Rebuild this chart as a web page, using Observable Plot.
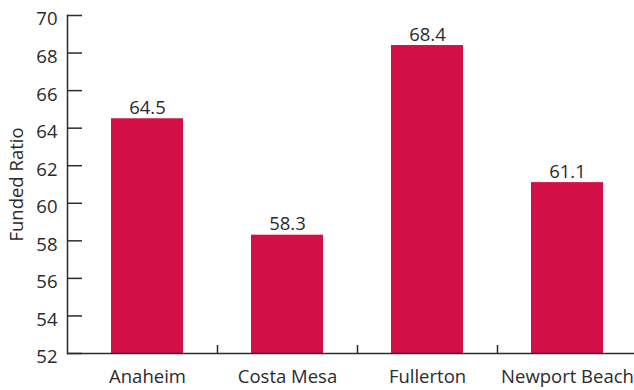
<!DOCTYPE html>
<html>
<head>
<meta charset="utf-8">
<script src="https://cdn.jsdelivr.net/npm/d3@7"></script>
<script src="https://cdn.jsdelivr.net/npm/@observablehq/plot@0.6"></script>
<style>
  html, body { margin: 0; padding: 0; background: #fff; }
  #chart svg { display: block; }
</style>
</head>
<body>
<div id="chart"></div>
<script>
const cities = ["Anaheim", "Costa Mesa", "Fullerton", "Newport Beach"];
const fundedRatio = [64.5, 58.3, 68.4, 61.1];
const yTicks = [52, 54, 56, 58, 60, 62, 64, 66, 68, 70];

const data = cities.map((c, i) => ({city: c, value: fundedRatio[i]}));
const ink = "#2b2b2b";
const font = "Open Sans, sans-serif";

const chart = Plot.plot({
  width: 634,
  height: 390,
  marginTop: 15,
  marginBottom: 37,
  marginLeft: 67,
  marginRight: 0,
  style: {fontFamily: font, fontSize: "18.5px", color: ink, background: "#fff"},
  x: {domain: cities, range: [77, 637], paddingInner: 0.486, paddingOuter: 0.243, align: 0.5},
  y: {domain: [52, 70]},
  marks: [
    Plot.barY(data, {x: "city", y1: 52, y2: "value", fill: "#d20f46"}),
    Plot.text(data, {x: "city", y: "value", text: d => d.value.toFixed(1), lineAnchor: "bottom", dy: -5, fill: ink, fontSize: 18.5}),
    Plot.axisY(yTicks, {tickSize: -15, text: null, label: null, stroke: ink, strokeWidth: 1.5}),
    Plot.axisY(yTicks, {tickSize: 0, tickPadding: 10, dy: 4, label: "Funded Ratio", labelArrow: false, labelAnchor: "center", labelOffset: 58, fill: ink, fontSize: 18.5}),
    Plot.axisX(cities.slice(1), {tickSize: -8, dx: -70, text: null, label: null, stroke: ink, strokeWidth: 1.5}),
    Plot.axisX(cities, {tickSize: 0, tickPadding: 16, label: null, fill: ink, fontSize: 18.5}),
    Plot.frame({anchor: "left", stroke: ink, strokeWidth: 1.5}),
    Plot.ruleY([52], {stroke: ink, strokeWidth: 1.5})
  ]
});
document.getElementById("chart").append(chart);
</script>
</body>
</html>
